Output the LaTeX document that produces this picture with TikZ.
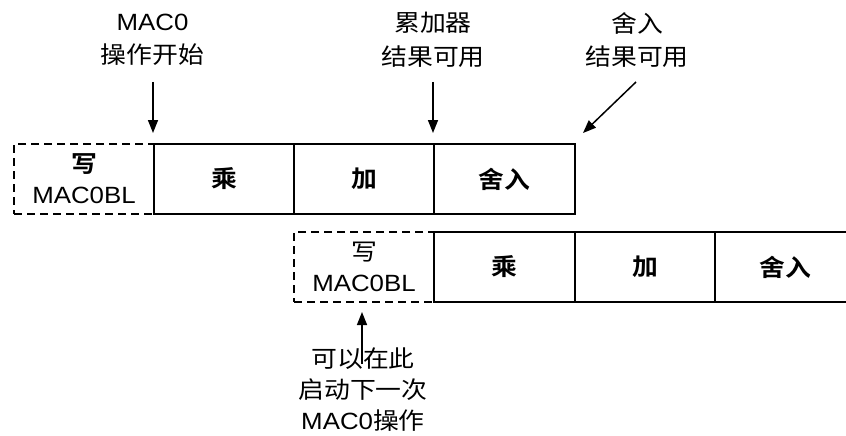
\documentclass[tikz,border=0pt]{standalone}
\usepackage{fontspec}
\setmainfont{Liberation Sans}
\newfontfamily\cjk{Noto Sans CJK SC}[BoldFont={Noto Sans CJK SC Bold}]
\usetikzlibrary{arrows.meta}
\newcommand{\stx}[1]{\scalebox{1.1}[1]{#1}}
\begin{document}
\begin{tikzpicture}[x=1pt,y=-1pt, font=\fontsize{23.5}{31}\selectfont,
  cell/.style={draw, line width=2pt, minimum width=140pt, minimum height=70pt,
    inner sep=0pt, anchor=north west, align=center},
  wide/.style={minimum width=141pt},
  dcell/.style={cell, dash pattern=on 8pt off 5pt},
  arr/.style={line width=1.5pt, -{Triangle[length=13pt,width=10pt]}},
  lbl/.style={align=center, inner sep=0pt},
  toplbl/.style={lbl, font=\fontsize{23.5}{33.5}\selectfont}]
\useasboundingbox (0,0) rectangle (846,436);
\clip (0,0) rectangle (846,436);
% top row
\node[dcell] (w1) at (13,143) {{\cjk\bfseries\stx{写}}\\\stx{MAC0BL}};
\node[cell] (m1) at (153,143) {\cjk\bfseries\stx{乘}};
\node[cell] (a1) at (293,143) {\cjk\bfseries\stx{加}};
\node[cell,wide] (r1) at (433,143) {\cjk\bfseries\stx{舍入}};
% bottom row
\node[dcell] (w2) at (293,231) {{\cjk\stx{写}}\\\stx{MAC0BL}};
\node[cell,wide] (m2) at (433,231) {\cjk\bfseries\stx{乘}};
\node[cell] (a2) at (574,231) {\cjk\bfseries\stx{加}};
\node[cell] (r2) at (714,231) {\cjk\bfseries\stx{舍入}};
% labels
\node[toplbl] (l1) at (152.5,40) {\stx{MAC0}\\{\cjk\stx{操作开始}}};
\node[toplbl] (l2) at (433,40) {{\cjk\stx{累加器}}\\{\cjk\stx{结果可用}}};
\node[toplbl] (l3) at (637,40) {{\cjk\stx{舍入}}\\{\cjk\stx{结果可用}}};
\node[lbl] (l4) at (363,390) {{\cjk\stx{可以在此}}\\{\cjk\stx{启动下一次}}\\\stx{MAC0{\cjk 操作}}};
% arrows
\coordinate (s1) at (153,82); \coordinate (e1) at (153,133);
\coordinate (s2) at (433,82); \coordinate (e2) at (433,133);
\coordinate (s3) at (636,82); \coordinate (e3) at (583,133);
\coordinate (s4) at (362,364); \coordinate (e4) at (362,312);
\draw[arr] (s1) -- (e1);
\draw[arr] (s2) -- (e2);
\draw[arr] (s3) -- (e3);
\draw[arr] (s4) -- (e4);
\end{tikzpicture}
\end{document}
